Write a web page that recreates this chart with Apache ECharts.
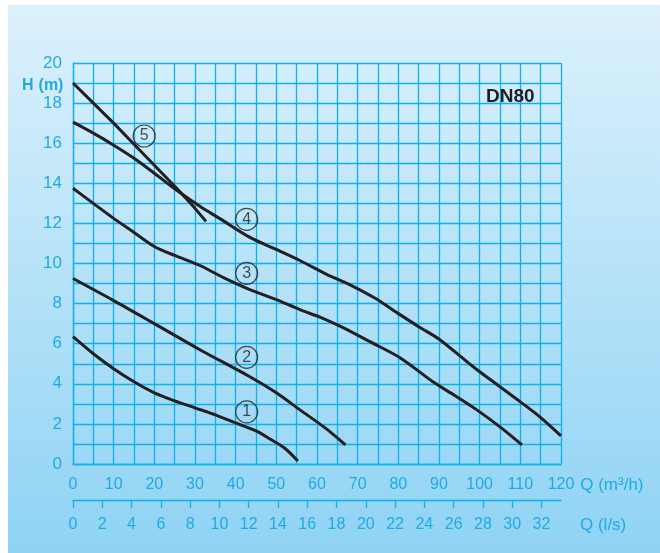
<!DOCTYPE html>
<html>
<head>
<meta charset="utf-8">
<script src="https://cdn.jsdelivr.net/npm/echarts@6/dist/echarts.min.js"></script>
<style>
html,body{margin:0;padding:0;background:#fff;}
#c{width:660px;height:553px;}
</style>
</head>
<body>
<div id="c"></div>
<script>
// Pump curves DN80: [Q (m3/h), H (m)]
const curve1 = [[0,6.35],[5,5.5],[10,4.75],[15,4.1],[20,3.55],[25,3.15],[30,2.8],[35,2.45],[40,2.05],[45,1.65],[48,1.3],[52,0.8],[55.3,0.15]];
const curve2 = [[0,9.25],[10,8.15],[20,7.0],[31.2,5.7],[43.5,4.35],[50,3.55],[55.8,2.7],[62,1.8],[67,0.95]];
const curve3 = [[0,13.75],[5,13.0],[10,12.25],[15,11.55],[20,10.85],[25,10.4],[31.2,9.9],[37,9.3],[43.5,8.7],[50,8.2],[55.8,7.7],[61,7.3],[66.4,6.8],[73,6.1],[80.4,5.3],[88.5,4.1],[94,3.4],[99.3,2.7],[105,1.85],[110.4,0.95]];
const curve4 = [[0,17.05],[5,16.5],[10,15.9],[15,15.25],[20,14.5],[25.5,13.65],[31.2,12.85],[36,12.25],[43.5,11.3],[50,10.7],[55.8,10.15],[62.5,9.45],[68,8.95],[74,8.3],[80.4,7.45],[85,6.85],[90.2,6.2],[98.4,4.85],[105,3.85],[110,3.1],[114.8,2.35],[120,1.4]];
const curve5 = [[0,19.0],[5,18.0],[10,17.0],[15,15.95],[20,14.9],[25.5,13.75],[30,12.75],[32.7,12.1]];
const curveLabels = [[42.7,2.6,'1'],[42.7,5.32,'2'],[42.7,9.51,'3'],[42.7,12.2,'4'],[17.5,16.36,'5']];
const lsTicks = [0,2,4,6,8,10,12,14,16,18,20,22,24,26,28,30,32];
const title = 'DN80';

const blue = '#1eaae7';
const gridBlue = '#0fb0ee';
const ink = '#231f20';
const FONT = 'Liberation Sans';

const chart = echarts.init(document.getElementById('c'));
function lineSeries(d){
  return {type:'line', data:d, smooth:0.3, symbol:'none', xAxisIndex:0, yAxisIndex:0,
    lineStyle:{color:ink, width:3}, z:5};
}
chart.setOption({
  animation:false,
  textStyle:{fontFamily:FONT},
  graphic:[{type:'rect', left:8, top:5, shape:{width:652, height:548}, z:-10,
    style:{fill:new echarts.graphic.LinearGradient(0,0,0,1,[{offset:0,color:'#dcf1fc'},{offset:1,color:'#8fd3f4'}])}}],
  title:[{text:'{h|H} {m|(m)}', left:17, top:72, textStyle:{rich:{h:{fontFamily:FONT,fontWeight:'bold',fontSize:16,color:blue},m:{fontFamily:FONT,fontSize:16,color:blue}}}},
         {text:title, left:481, top:82, textStyle:{fontFamily:FONT,fontWeight:'bold',fontSize:19,color:ink}}],
  grid:{left:73, right:99, top:63, bottom:89},
  xAxis:[
    {type:'value', min:0, max:120, interval:5, position:'bottom',
     axisLine:{show:true, lineStyle:{color:gridBlue, width:1.3}}, axisTick:{show:false},
     axisLabel:{color:blue, fontSize:16, margin:13, formatter:v=> v%10===0 ? String(v) : ''},
     splitLine:{show:true, lineStyle:{color:gridBlue, width:1.3}},
     name:'Q (m³/h)', nameLocation:'end', nameGap:19,
     nameTextStyle:{color:blue, fontSize:17, verticalAlign:'top', padding:[13,0,0,0]}},
    {type:'value', min:0, max:120/3.6, position:'bottom', offset:36,
     axisLine:{show:true, lineStyle:{color:gridBlue, width:1.3}},
     axisTick:{show:true, length:8, customValues:lsTicks, lineStyle:{color:gridBlue, width:1.3}},
     axisLabel:{color:blue, fontSize:16, margin:17, customValues:lsTicks},
     splitLine:{show:false},
     name:'Q (l/s)', nameLocation:'end', nameGap:19,
     nameTextStyle:{color:blue, fontSize:17, verticalAlign:'top', padding:[17,0,0,0]}}
  ],
  yAxis:[{type:'value', min:0, max:20, interval:1,
     axisLine:{show:true, lineStyle:{color:gridBlue, width:1.3}}, axisTick:{show:false},
     axisLabel:{color:blue, fontSize:17, margin:11, formatter:v=> v%2===0 ? String(v) : ''},
     splitLine:{show:true, lineStyle:{color:gridBlue, width:1.3}}}],
  series:[
    lineSeries(curve1), lineSeries(curve2), lineSeries(curve3), lineSeries(curve4),
    {type:'line', data:curve5, smooth:false, symbol:'none', lineStyle:{color:ink, width:3}, z:5},
    {type:'scatter', data:curveLabels, symbol:'circle', symbolSize:22, z:6,
     itemStyle:{color:'rgba(0,0,0,0)', borderColor:ink, borderWidth:1.2},
     label:{show:true, position:'inside', formatter:p=>p.value[2], color:ink, fontSize:16, fontFamily:FONT}}
  ]
});
</script>
</body>
</html>
